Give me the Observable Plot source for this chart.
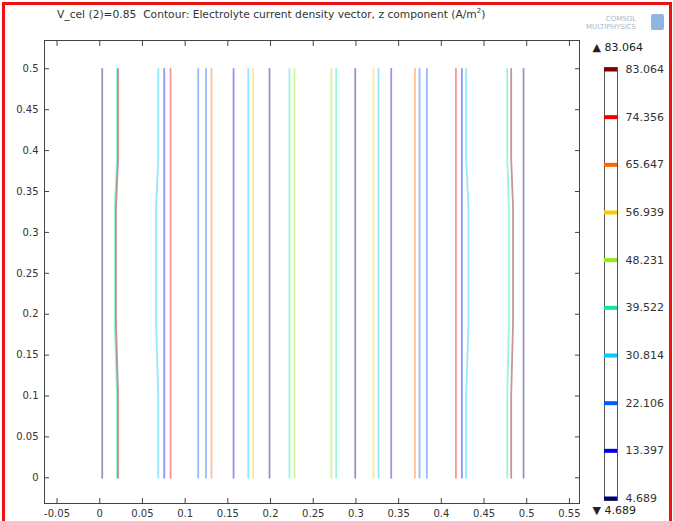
<!DOCTYPE html>
<html>
<head>
<meta charset="utf-8">
<script src="https://cdn.jsdelivr.net/npm/d3@7"></script>
<script src="https://cdn.jsdelivr.net/npm/@observablehq/plot@0.6"></script>
<style>
  html, body { margin: 0; padding: 0; background: #fff; }
  #wrap { position: relative; width: 673px; height: 521px; overflow: hidden; background: #fff; }
  #border { position: absolute; left: 2px; top: 2px; width: 670px; height: 540px; border: 3px solid #ee1111; box-sizing: border-box; }
  #title { position: absolute; left: 57px; top: 7px; font: 10.7px "DejaVu Sans", sans-serif; color: #333; white-space: nowrap; }
  #logo { position: absolute; left: 586px; top: 15px; font: 7px "DejaVu Sans", sans-serif; color: #aab8cc; text-align: right; line-height: 8px; }
  #logoIcon { position: absolute; left: 651px; top: 14px; width: 13px; height: 16px; background: #8fb6e0; border-radius: 2px; }
  #main { position: absolute; left: 0; top: 0; }
  #legend { position: absolute; left: 590px; top: 0; }
</style>
</head>
<body>
<div id="wrap">
  <div id="title">V_cel (2)=0.85&nbsp; Contour: Electrolyte current density vector, z component (A/m<sup style="font-size:7px">2</sup>)</div>
  <div id="logo">COMSOL<br>MULTIPHYSICS</div>
  <div id="logoIcon"></div>
  <div id="main"></div>
  <div id="legend"></div>
  <div id="border"></div>
</div>
<script>
// Contour levels (A/m^2) and their colours
const levels = [4.689, 13.397, 22.106, 30.814, 39.522, 48.231, 56.939, 65.647, 74.356, 83.064];
const levelLabels = ["4.689", "13.397", "22.106", "30.814", "39.522", "48.231", "56.939", "65.647", "74.356", "83.064"];
const levelColors = ["#000070", "#0000e6", "#0060ff", "#00c8ff", "#10e8a0", "#90ee10", "#ffc800", "#ff6600", "#ee0000", "#800000"];

// Contour lines: x at top/bottom, x in the middle band, level index
const contourX =    [0.0029, 0.0201, 0.0215, 0.0685, 0.0755, 0.0829, 0.1153, 0.1244, 0.1309, 0.1567, 0.1739, 0.1797, 0.1988, 0.2222, 0.2281,
                     0.2711, 0.2769, 0.2992, 0.3206, 0.3265, 0.3413, 0.3691, 0.3745, 0.3831, 0.4171, 0.4241, 0.4291, 0.4772, 0.4818, 0.4963];
const contourMidX = [0.0029, 0.0175, 0.0190, 0.0660, 0.0755, 0.0829, 0.1153, 0.1244, 0.1309, 0.1567, 0.1739, 0.1797, 0.1988, 0.2222, 0.2281,
                     0.2711, 0.2769, 0.2992, 0.3206, 0.3265, 0.3413, 0.3691, 0.3745, 0.3831, 0.4171, 0.4241, 0.4318, 0.4792, 0.4840, 0.4963];
const contourLevel = [0, 4, 9, 3, 1, 8, 2, 2, 7, 1, 3, 6, 0, 4, 5,
                      5, 4, 0, 6, 3, 1, 7, 2, 2, 8, 1, 3, 4, 9, 0];
// y positions where the bowed contours change (bottom, bend start, mid band, bend end, top)
const yKnots = [0, 0.10, 0.19, 0.33, 0.39, 0.5];
const knotIsMid = [false, false, true, true, false, false];

// Axis ticks
const xTicks = [-0.05, 0, 0.05, 0.1, 0.15, 0.2, 0.25, 0.3, 0.35, 0.4, 0.45, 0.5, 0.55];
const xTickLabels = ["-0.05", "0", "0.05", "0.1", "0.15", "0.2", "0.25", "0.3", "0.35", "0.4", "0.45", "0.5", "0.55"];
const yTicks = [0, 0.05, 0.1, 0.15, 0.2, 0.25, 0.3, 0.35, 0.4, 0.45, 0.5];
const yTickLabels = ["0", "0.05", "0.1", "0.15", "0.2", "0.25", "0.3", "0.35", "0.4", "0.45", "0.5"];

const rows = [];
contourX.forEach((x, i) => {
  yKnots.forEach((y, k) => {
    rows.push({id: i, x: knotIsMid[k] ? contourMidX[i] : x, y, color: levelColors[contourLevel[i]]});
  });
});

const axisStyle = {fontFamily: "DejaVu Sans, sans-serif", fontSize: "10px", color: "#333", background: "transparent", overflow: "visible"};

const main = Plot.plot({
  width: 580, height: 521,
  marginLeft: 44, marginRight: 1, marginTop: 40, marginBottom: 18,
  x: {domain: [-0.0647, 0.5618], label: null},
  y: {domain: [-0.0314, 0.5346], label: null},
  color: {type: "identity"},
  style: axisStyle,
  marks: [
    Plot.line(rows, {x: "x", y: "y", z: "id", stroke: "color", strokeOpacity: 0.42, strokeWidth: 1.8, curve: "linear"}),
    Plot.frame({stroke: "#444"}),
    Plot.axisX(xTicks, {anchor: "bottom", tickSize: 0, tickPadding: 6, tickFormat: (d, i) => xTickLabels[i], fill: "#333", label: null}),
    Plot.axisX(xTicks, {anchor: "bottom", tickSize: -5, tickFormat: () => "", stroke: "#444", label: null}),
    Plot.axisX(xTicks, {anchor: "top", tickSize: -5, tickFormat: () => "", stroke: "#444", label: null}),
    Plot.axisY(yTicks, {anchor: "left", tickSize: 0, tickPadding: 6, tickFormat: (d, i) => yTickLabels[i], fill: "#333", label: null}),
    Plot.axisY(yTicks, {anchor: "left", tickSize: -5, tickFormat: () => "", stroke: "#444", label: null}),
    Plot.axisY(yTicks, {anchor: "right", tickSize: -5, tickFormat: () => "", stroke: "#444", label: null})
  ]
});
document.getElementById("main").appendChild(main);

const legend = Plot.plot({
  width: 83, height: 521,
  marginLeft: 14, marginRight: 56, marginTop: 69, marginBottom: 23,
  x: {domain: [0, 1], axis: null},
  y: {domain: [levels[0], levels[levels.length - 1]], axis: null},
  color: {type: "identity"},
  style: axisStyle,
  marks: [
    Plot.frame({stroke: "#555", insetTop: -2, insetBottom: -2}),
    Plot.ruleY(levels, {y: d => d, stroke: (d, i) => levelColors[i], strokeWidth: 4}),
    Plot.text(levels, {y: d => d, text: (d, i) => levelLabels[i], frameAnchor: "right", textAnchor: "start", dx: 8, fill: "#333", fontSize: 11}),
    Plot.text(["\u25B2 " + levelLabels[levelLabels.length - 1]], {frameAnchor: "top-left", textAnchor: "start", dx: -12, dy: -26, fill: "#222", fontSize: 11}),
    Plot.text(["\u25BC " + levelLabels[0]], {frameAnchor: "bottom-left", textAnchor: "start", dx: -12, dy: 15, fill: "#222", fontSize: 11})
  ]
});
document.getElementById("legend").appendChild(legend);
</script>
</body>
</html>
